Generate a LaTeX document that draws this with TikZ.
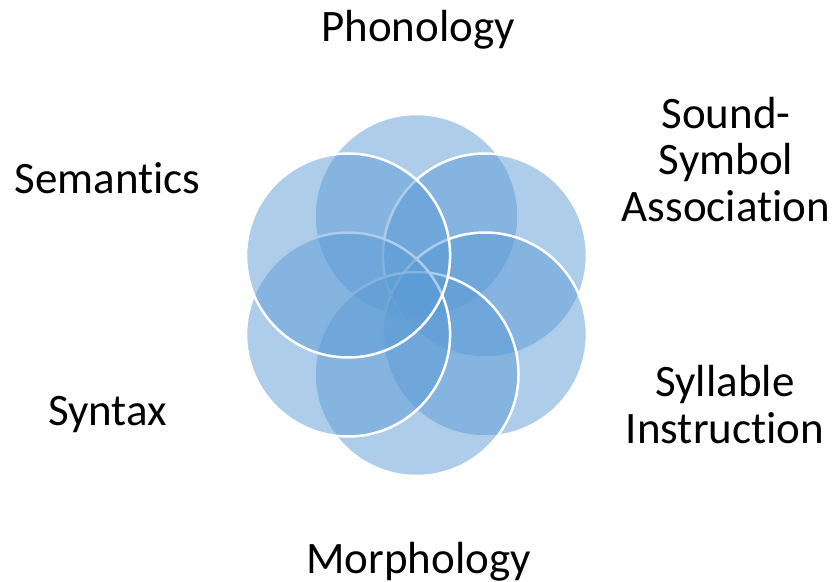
\documentclass[tikz,border=0pt]{standalone}
\usepackage{fontspec}
\setmainfont{Carlito}[Ligatures=NoCommon]
\definecolor{petal}{RGB}{91,155,213}

\begin{document}
\begin{tikzpicture}[x=1pt,y=1pt,
  petalfill/.style={fill=petal, fill opacity=0.5, draw=white, line width=2.5pt},
  lab/.style={font=\fontsize{45}{46.7}\selectfont, align=center, inner sep=0pt, anchor=base}]
\useasboundingbox (0,0) rectangle (834,581);

\def\rad{102pt}
\def\off{79}
\coordinate (c) at (416.5,286);

% petals, clockwise from the top; later ones wash over earlier outlines
\path[petalfill] ([shift={(90:\off)}]c) circle (\rad);
\path[petalfill] ([shift={(30:\off)}]c) circle (\rad);
\path[petalfill] ([shift={(-30:\off)}]c) circle (\rad);
\path[petalfill] ([shift={(-90:\off)}]c) circle (\rad);
\path[petalfill] ([shift={(-150:\off)}]c) circle (\rad);
\path[petalfill] ([shift={(150:\off)}]c) circle (\rad);

% labels (base = last line's baseline)
\node[lab] (phon) at (418,539.3) {Phonology};
\node[lab] (sound) at (726,359.3) {Sound-\\Symbol\\Association};
\node[lab] (syll) at (725,137.7) {Syllable\\Instruction};
\node[lab] (morph) at (418.5,7.7) {Morphology};
\node[lab] (syn) at (107.5,156) {Syntax};
\node[lab] (sem) at (107.5,387.7) {Semantics};

\end{tikzpicture}
\end{document}
